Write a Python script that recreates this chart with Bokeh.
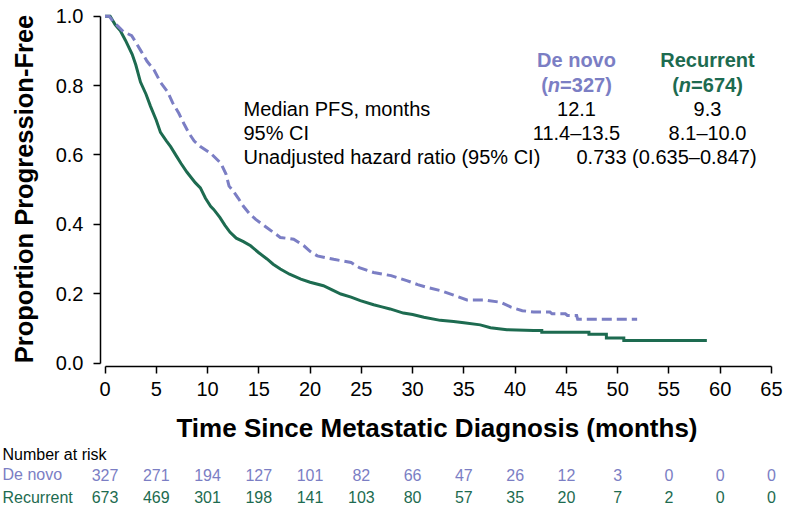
from bokeh.plotting import figure
from bokeh.layouts import column
from bokeh.models import (Range1d, FixedTicker, PrintfTickFormatter, Label,
                          ColumnDataSource)
from bokeh.core.properties import value
from bokeh.embed import file_html
from bokeh.resources import INLINE

# ---------------- data (curve vertices) ----------------
recurrent_t = [0, 0.5, 1.0, 1.5, 2.0, 2.65, 3.0, 3.46, 4.0, 4.44, 5.0, 5.41, 6.0, 6.4,
               7.0, 7.4, 8.0, 8.8, 9.3, 9.8, 10.3, 10.6, 11.2, 11.7, 12.2, 12.8, 13.5,
               14.2, 15.0, 15.8, 16.4, 17.1, 18.0, 19.1, 20.0, 21.3, 22.2, 23.0, 24.0,
               24.9, 26.2, 27.0, 27.8, 29.1, 30.0, 31.1, 32.7, 34.0, 35.0, 36.6, 37.6,
               39.2, 41.8, 42.6, 42.6, 47.2, 47.2, 48.9, 48.9, 50.6, 50.6, 58.7]
recurrent_s = [1.0, 1.0, 0.975, 0.958, 0.93, 0.89, 0.86, 0.81, 0.775, 0.74, 0.70, 0.665,
               0.64, 0.624, 0.595, 0.576, 0.55, 0.52, 0.505, 0.475, 0.452, 0.443, 0.42,
               0.397, 0.377, 0.36, 0.35, 0.338, 0.318, 0.30, 0.285, 0.271, 0.256, 0.242,
               0.233, 0.223, 0.21, 0.199, 0.19, 0.18, 0.168, 0.162, 0.156, 0.144, 0.14,
               0.132, 0.123, 0.12, 0.116, 0.11, 0.102, 0.096, 0.094, 0.094, 0.089, 0.089,
               0.083, 0.083, 0.072, 0.072, 0.065, 0.065]

denovo_t = [0, 0.4, 0.8, 1.3, 1.8, 2.6, 3.0, 3.5, 4.1, 4.8, 5.4, 6.1, 6.6, 7.2, 7.7, 8.2,
            8.7, 9.3, 10.3, 11.3, 11.8, 12.1, 12.4, 13.0, 13.5, 14.1, 14.7, 15.8, 16.5,
            17.1, 18.4, 19.4, 20.0, 20.7, 22.3, 24.0, 24.8, 26.2, 27.9, 29.5, 30.5, 31.4,
            32.7, 34.0, 35.3, 37.0, 38.6, 39.6, 40.7, 41.8, 43.4, 43.6, 44.9, 45.1, 46.0,
            46.1, 51.9]
denovo_s = [1.0, 1.0, 0.985, 0.97, 0.955, 0.944, 0.925, 0.90, 0.87, 0.844, 0.81, 0.782,
            0.75, 0.72, 0.69, 0.662, 0.64, 0.624, 0.605, 0.576, 0.545, 0.51, 0.50, 0.475,
            0.452, 0.43, 0.414, 0.39, 0.375, 0.362, 0.357, 0.338, 0.322, 0.309, 0.299,
            0.29, 0.275, 0.261, 0.252, 0.237, 0.226, 0.218, 0.209, 0.196, 0.182, 0.182,
            0.175, 0.161, 0.151, 0.147, 0.147, 0.142, 0.142, 0.137, 0.137, 0.126, 0.126]

risk_times = [0, 5, 10, 15, 20, 25, 30, 35, 40, 45, 50, 55, 60, 65]
risk_denovo = [327, 271, 194, 127, 101, 82, 66, 47, 26, 12, 3, 0, 0, 0]
risk_recurrent = [673, 469, 301, 198, 141, 103, 80, 57, 35, 20, 7, 2, 0, 0]

x_ticks = [0, 5, 10, 15, 20, 25, 30, 35, 40, 45, 50, 55, 60, 65]
y_ticks = [0.0, 0.2, 0.4, 0.6, 0.8, 1.0]

group_names = ["De novo", "Recurrent"]
group_n = ["327", "674"]
stat_rows = ["Median PFS, months", "95% CI", "Unadjusted hazard ratio (95% CI)"]
denovo_stats = ["12.1", "11.4\u201313.5"]
recurrent_stats = ["9.3", "8.1\u201310.0"]
hr_text = "0.733 (0.635\u20130.847)"
risk_title = "Number at risk"

# ---------------- style / layout ----------------
BLUE = "#7B7EC4"
GREEN = "#1D6B50"
FONT = "Liberation Sans"

W = 786
HP = 445          # height of the plot figure
HT = 506 - HP     # height of the at-risk table strip
BL, BR, BT = 100, 13, 11
BB = HP - 368
X0, X1 = -0.44, 65.2
Y0, Y1 = -0.01, 1.0135
FW = W - BL - BR
FH = HP - BT - BB
PXM = FW / (X1 - X0)


def dx(sx):
    """page pixel -> data x"""
    return X0 + (sx - BL) / PXM


def dy(sy):
    """page pixel -> data y"""
    return Y1 - (sy - BT) * (Y1 - Y0) / FH


p = figure(width=W, height=HP, x_range=Range1d(X0, X1), y_range=Range1d(Y0, Y1),
           output_backend="svg", toolbar_location=None,
           min_border_left=BL, min_border_right=BR, min_border_top=BT,
           min_border_bottom=BB)
p.frame_align = False
p.outline_line_color = None
p.xgrid.visible = False
p.ygrid.visible = False
p.background_fill_color = "white"
p.border_fill_color = "white"

p.xaxis.ticker = FixedTicker(ticks=x_ticks)
p.yaxis.ticker = FixedTicker(ticks=y_ticks)
p.yaxis.formatter = PrintfTickFormatter(format="%.1f")
p.xaxis.bounds = (0, 65)
p.yaxis.bounds = (0, 1)
for ax in (p.xaxis[0], p.yaxis[0]):
    ax.major_tick_in = 0
    ax.major_tick_out = 7
    ax.minor_tick_in = 0
    ax.minor_tick_out = 0
    ax.axis_line_width = 1.5
    ax.axis_line_color = "black"
    ax.major_tick_line_width = 1.5
    ax.major_tick_line_color = "black"
    ax.major_label_text_font = FONT
    ax.major_label_text_font_size = "20px"
    ax.major_label_text_color = "black"
    ax.axis_label_text_font = FONT
    ax.axis_label_text_font_style = "bold"
    ax.axis_label_text_color = "black"

p.xaxis.major_label_standoff = 8
p.yaxis.major_label_standoff = 10
p.xaxis.axis_label = "Time Since Metastatic Diagnosis (months)"
p.xaxis.axis_label_text_font_size = "26px"
p.xaxis.axis_label_standoff = 14
p.yaxis.axis_label = "Proportion Progression-Free"
p.yaxis.axis_label_text_font_size = "25.5px"
p.yaxis.axis_label_standoff = 15

# ---------------- curves ----------------
p.line(recurrent_t, recurrent_s, line_color=GREEN, line_width=3, line_join="miter")
p.line(denovo_t, denovo_s, line_color=BLUE, line_width=3, line_dash="10 5",
       line_join="miter")


def add_label(text, sx, sy, align="left", size="20px", color="black",
              style="normal"):
    p.add_layout(Label(x=dx(sx), y=dy(sy), text=text, text_align=align,
                       text_baseline="middle", text_font=FONT,
                       text_font_size=size, text_color=color,
                       text_font_style=style))


# ---------------- stats block (y = text centre, page px) ----------------
col_centers = [576, 707]
col_colors = [BLUE, GREEN]
for name, n, cx, col in zip(group_names, group_n, col_centers, col_colors):
    add_label(name, cx, 60, align="center", color=col, style="bold")
    # "(n=NNN)" with an italic n ; advance widths of bold Arial at 20 px
    w_open, w_n = 6.66, 12.22
    w_rest = 11.68 + 11.12 * len(n) + 6.66
    left = cx - (w_open + w_n + w_rest) / 2
    add_label("(", left, 85, color=col, style="bold")
    add_label("n", left + w_open, 85, color=col, style="bold italic")
    add_label("=" + n + ")", left + w_open + w_n, 85, color=col, style="bold")

row_mid = [109, 133, 157]
for txt, sy in zip(stat_rows, row_mid):
    add_label(txt, 243, sy)
for i in range(2):
    add_label(denovo_stats[i], col_centers[0], row_mid[i], align="center")
    add_label(recurrent_stats[i], col_centers[1], row_mid[i], align="center")
add_label(hr_text, 576, row_mid[2])

# ---------------- number-at-risk strip (same x scale) ----------------
q = figure(width=W, height=HT,
           x_range=Range1d(X0 - BL / PXM, X1 + BR / PXM),
           y_range=Range1d(506, HP),   # y in page pixels, top = HP
           output_backend="svg", toolbar_location=None,
           x_axis_type=None, y_axis_type=None,
           min_border=0, min_border_left=0, min_border_right=0,
           min_border_top=0, min_border_bottom=0)
q.frame_align = False
q.outline_line_color = None
q.xgrid.visible = False
q.ygrid.visible = False
q.border_fill_color = "white"

row_y = [474, 496.5]
label_x = X0 - BL / PXM + 2 / PXM
q.text(x=[label_x], y=[454], text=[risk_title], text_align="left",
       text_baseline="middle", text_font=value(FONT), text_font_size="16px",
       text_color="black")
q.text(x=[label_x, label_x], y=row_y, text=group_names, text_align="left",
       text_baseline="middle", text_font=value(FONT), text_font_size="16px",
       text_color=[BLUE, GREEN])
src_dn = ColumnDataSource(dict(t=risk_times, v=[str(v) for v in risk_denovo]))
src_rc = ColumnDataSource(dict(t=risk_times, v=[str(v) for v in risk_recurrent]))
q.text(x="t", y=row_y[0], text="v", source=src_dn, text_align="center",
       text_baseline="middle", text_font=value(FONT), text_font_size="16px",
       text_color=BLUE)
q.text(x="t", y=row_y[1], text="v", source=src_rc, text_align="center",
       text_baseline="middle", text_font=value(FONT), text_font_size="16px",
       text_color=GREEN)

layout = column(p, q, spacing=0)
open("out.html", "w").write(file_html(layout, INLINE))
